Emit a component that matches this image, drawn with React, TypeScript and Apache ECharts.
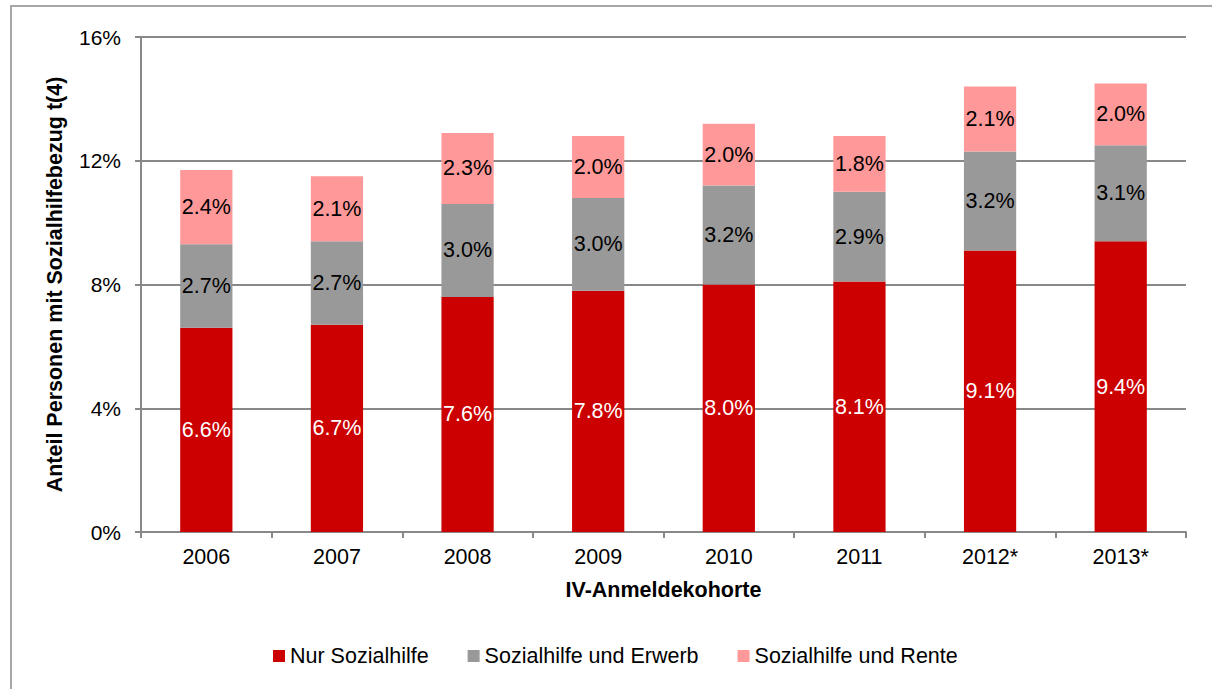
import React, { useEffect, useRef } from "react";
import * as echarts from "echarts";

const categories = ["2006", "2007", "2008", "2009", "2010", "2011", "2012*", "2013*"];
const nurSozialhilfe = [6.6, 6.7, 7.6, 7.8, 8.0, 8.1, 9.1, 9.4];
const sozialhilfeErwerb = [2.7, 2.7, 3.0, 3.0, 3.2, 2.9, 3.2, 3.1];
const sozialhilfeRente = [2.4, 2.1, 2.3, 2.0, 2.0, 1.8, 2.1, 2.0];
const yTicks = { min: 0, max: 16, interval: 4 };

const FONT = "'Liberation Sans', Arial, sans-serif";
const FS = 21;
const FS_L = 21.5;

export default function App() {
  const ref = useRef<HTMLDivElement>(null);
  useEffect(() => {
    if (!ref.current) return;
    const chart = echarts.init(ref.current, undefined, { renderer: "svg" });
    const mk = (name: string, data: number[], color: string, labelColor: string) => ({
      name,
      type: "bar",
      stack: "total",
      barWidth: "40%",
      data,
      itemStyle: { color },
      label: {
        show: true,
        position: "inside",
        formatter: (p: any) => p.value.toFixed(1) + "%",
        color: labelColor,
        fontSize: FS_L,
        fontFamily: FONT,
      },
    });
    chart.setOption({
      animation: false,
      backgroundColor: "#ffffff",
      textStyle: { fontFamily: FONT },
      graphic: [
        {
          type: "rect",
          shape: { x: 11, y: 6, width: 1220, height: 700 },
          style: { fill: "none", stroke: "#a6a6a6", lineWidth: 2 },
          silent: true,
        },
      ],
      grid: { left: 141, right: 26, top: 37, bottom: 157 },
      legend: {
        top: 645,
        left: 273,
        padding: 0,
        itemWidth: 12,
        itemHeight: 12,
        itemGap: 39,
        icon: "rect",
        textStyle: { fontSize: FS_L, fontFamily: FONT, color: "#000" },
        data: ["Nur Sozialhilfe", "Sozialhilfe und Erwerb", "Sozialhilfe und Rente"],
      },
      xAxis: {
        type: "category",
        data: categories,
        name: "IV-Anmeldekohorte",
        nameLocation: "middle",
        nameGap: 47,
        nameTextStyle: { fontSize: FS_L, fontWeight: "bold", color: "#000", fontFamily: FONT },
        axisLine: { lineStyle: { color: "#888888", width: 2 } },
        axisTick: { show: true, length: 6, lineStyle: { color: "#888888", width: 2 } },
        axisLabel: { fontSize: FS_L, color: "#000", margin: 14, fontFamily: FONT },
      },
      yAxis: {
        type: "value",
        min: yTicks.min,
        max: yTicks.max,
        interval: yTicks.interval,
        name: "Anteil Personen mit Sozialhilfebezug t(4)",
        nameLocation: "middle",
        nameGap: 75,
        nameRotate: 90,
        nameTextStyle: { fontSize: FS_L, fontWeight: "bold", color: "#000", fontFamily: FONT },
        axisLine: { show: true, lineStyle: { color: "#888888", width: 2 } },
        axisTick: { show: true, length: 6, lineStyle: { color: "#888888", width: 2 } },
        axisLabel: { fontSize: FS, color: "#000", margin: 20, formatter: "{value}%", fontFamily: FONT },
        splitLine: { lineStyle: { color: "#888888", width: 2 } },
      },
      series: [
        mk("Nur Sozialhilfe", nurSozialhilfe, "#cc0000", "#ffffff"),
        mk("Sozialhilfe und Erwerb", sozialhilfeErwerb, "#999999", "#000000"),
        mk("Sozialhilfe und Rente", sozialhilfeRente, "#ff9999", "#000000"),
      ],
    });
    return () => chart.dispose();
  }, []);
  return (
    <div
      ref={ref}
      style={{ position: "fixed", left: 0, top: 0, width: 1212, height: 689 }}
    />
  );
}
